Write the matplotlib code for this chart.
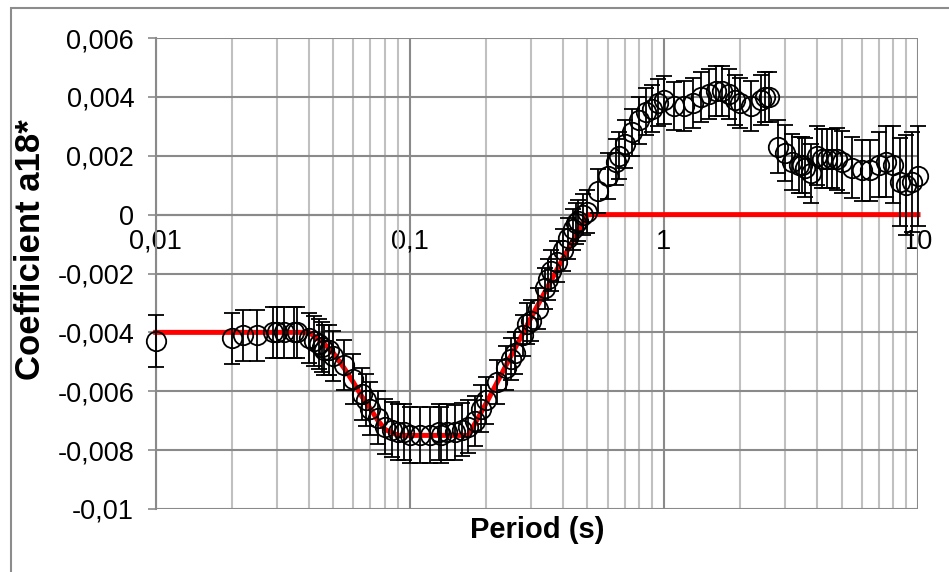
import numpy as np
import matplotlib
matplotlib.use("Agg")
from matplotlib import pyplot as plt
from matplotlib.ticker import FixedLocator, LogLocator, NullFormatter
from matplotlib.patches import Rectangle

# periodos e coeficiente a18*
periods = [0.01, 0.02, 0.022, 0.025, 0.029, 0.03, 0.032, 0.035, 0.036, 0.04,
           0.042, 0.044, 0.045, 0.046, 0.048, 0.05, 0.055, 0.06, 0.065, 0.067,
           0.07, 0.075, 0.08, 0.085, 0.09, 0.095, 0.1, 0.11, 0.12, 0.13,
           0.133, 0.14, 0.15, 0.16, 0.17, 0.18, 0.19, 0.2, 0.22, 0.24,
           0.25, 0.26, 0.28, 0.29, 0.3, 0.32, 0.34, 0.35, 0.36, 0.38,
           0.4, 0.42, 0.44, 0.45, 0.46, 0.48, 0.5, 0.55, 0.6, 0.65,
           0.667, 0.7, 0.75, 0.8, 0.85, 0.9, 0.95, 1.0, 1.1, 1.2,
           1.3, 1.4, 1.5, 1.6, 1.7, 1.8, 1.9, 2.0, 2.2, 2.4,
           2.5, 2.6, 2.8, 3.0, 3.2, 3.4, 3.5, 3.6, 3.8, 4.0,
           4.2, 4.4, 4.6, 4.8, 5.0, 5.5, 6.0, 6.5, 7.0, 7.5,
           8.0, 8.5, 9.0, 9.5, 10.0]
a18 = [-0.0043, -0.0042, -0.0041, -0.0041, -0.0040, -0.0040, -0.0040, -0.0040, -0.0040, -0.0042,
       -0.0043, -0.0044, -0.0045, -0.0046, -0.0046, -0.0048, -0.0051, -0.0056, -0.0061, -0.0063,
       -0.0066, -0.0069, -0.0072, -0.0073, -0.0074, -0.0074, -0.0075, -0.0075, -0.0075, -0.0074,
       -0.0075, -0.0074, -0.0074, -0.0073, -0.0072, -0.0070, -0.0066, -0.0063, -0.0057, -0.0052,
       -0.0049, -0.0047, -0.0041, -0.0037, -0.0036, -0.0032, -0.0025, -0.0022, -0.0019, -0.0016,
       -0.0012, -0.0008, -0.0005, -0.0003, -0.0002, 0.0000, 0.0001, 0.0008, 0.0013, 0.0018,
       0.0020, 0.0024, 0.0028, 0.0032, 0.0035, 0.0036, 0.0038, 0.0039, 0.0037, 0.0037,
       0.0038, 0.0040, 0.0041, 0.0042, 0.0042, 0.0041, 0.0039, 0.0038, 0.0037, 0.0039,
       0.0040, 0.0040, 0.0023, 0.0021, 0.0018, 0.0017, 0.0017, 0.0016, 0.0014, 0.0020,
       0.0019, 0.0019, 0.0019, 0.0019, 0.0018, 0.0016, 0.0015, 0.0015, 0.0017, 0.0018,
       0.0017, 0.0011, 0.0010, 0.0011, 0.0013]
erro = [0.00088, 0.00086, 0.00086, 0.00086, 0.00086, 0.00086, 0.00086, 0.00086, 0.00086, 0.00085,
        0.00085, 0.00085, 0.00085, 0.00085, 0.00085, 0.00085, 0.00085, 0.00085, 0.00088, 0.00088,
        0.00090, 0.00090, 0.00092, 0.00092, 0.00095, 0.00095, 0.00095, 0.00095, 0.00095, 0.00095,
        0.00095, 0.00095, 0.00092, 0.00090, 0.00090, 0.00085, 0.00080, 0.00080, 0.00075, 0.00075,
        0.00072, 0.00070, 0.00070, 0.00070, 0.00070, 0.00070, 0.00070, 0.00070, 0.00070, 0.00070,
        0.00070, 0.00070, 0.00070, 0.00070, 0.00070, 0.00070, 0.00072, 0.00075, 0.00078, 0.00078,
        0.00080, 0.00080, 0.00080, 0.00080, 0.00080, 0.00080, 0.00080, 0.00082, 0.00082, 0.00085,
        0.00085, 0.00085, 0.00085, 0.00085, 0.00085, 0.00085, 0.00085, 0.00085, 0.00085, 0.00085,
        0.00085, 0.00085, 0.00090, 0.00095, 0.00095, 0.00095, 0.00095, 0.00100, 0.00100, 0.00100,
        0.00100, 0.00100, 0.00100, 0.00105, 0.00105, 0.00105, 0.00105, 0.00105, 0.00110, 0.00120,
        0.00130, 0.00150, 0.00170, 0.00170, 0.00170]

# modelo (linha vermelha)
modelo_T = [0.01, 0.04, 0.045, 0.05, 0.055, 0.06, 0.065, 0.07, 0.075, 0.08,
            0.09, 0.1, 0.17, 0.2, 0.3, 0.4, 0.5, 10.0]
modelo_a = [-0.0040, -0.0040, -0.0043, -0.0047, -0.0052, -0.0057, -0.0062, -0.0066, -0.0070, -0.0073,
            -0.0075, -0.0075, -0.0075, -0.0064, -0.0035, -0.0015, 0.0, 0.0]

yticks = [-0.01, -0.008, -0.006, -0.004, -0.002, 0, 0.002, 0.004, 0.006]
ytick_labels = ["-0,01", "-0,008", "-0,006", "-0,004", "-0,002", "0", "0,002", "0,004", "0,006"]
xticks = [0.01, 0.1, 1, 10]
xtick_labels = ["0,01", "0,1", "1", "10"]

plt.rcParams['font.family'] = ['Liberation Sans', 'DejaVu Sans']

W, H = 949, 572
fig = plt.figure(figsize=(W / 100, H / 100), dpi=100)
ax = fig.add_axes([155.7 / W, 1 - 509 / H, (918 - 155.7) / W, (509 - 38) / H])

# borda do grafico (cortada na direita/baixo)
fig.patches.append(Rectangle((11 / W, -0.1), 1.2, 1 - 8 / H + 0.1, transform=fig.transFigure,
                             fill=False, edgecolor='#8c8c8c', linewidth=1.5, zorder=0))

ax.set_xscale('log')
ax.set_xlim(0.01, 10)
ax.set_ylim(-0.01, 0.006)

ax.plot(modelo_T, modelo_a, color='#ff0000', linewidth=3.6, zorder=2, clip_on=False)
pts = ax.errorbar(periods, a18, yerr=erro, fmt='o', markersize=14, markerfacecolor='none',
                  markeredgecolor='black', markeredgewidth=1.3, ecolor='black', elinewidth=1.3,
                  capsize=5.5, capthick=1.3, zorder=3)
for artista in pts.get_children():
    artista.set_clip_on(False)

# grade
ax.xaxis.set_major_locator(FixedLocator(xticks))
ax.xaxis.set_minor_locator(LogLocator(base=10, subs=np.arange(2, 10)))
ax.xaxis.set_minor_formatter(NullFormatter())
ax.set_xticklabels(xtick_labels)
ax.set_yticks(yticks)
ax.set_yticklabels(ytick_labels)
ax.grid(which='major', axis='both', color='#8a8a8a', linewidth=1.5, zorder=0)
ax.grid(which='minor', axis='x', color='#c0c0c0', linewidth=1.5, zorder=0)
ax.set_axisbelow(True)

for s in ['top', 'right']:
    ax.spines[s].set_visible(False)
ax.spines['left'].set_color('#8a8a8a')
ax.spines['left'].set_linewidth(1.5)
ax.spines['bottom'].set_position(('data', 0))
ax.spines['bottom'].set_color('#8a8a8a')
ax.spines['bottom'].set_linewidth(1.5)
ax.spines['bottom'].set_zorder(1)

ax.tick_params(axis='y', which='major', direction='out', length=5.5, width=1.2,
               color='#8a8a8a', labelsize=19.5, pad=10)
ax.tick_params(axis='x', which='both', length=0, labelsize=19.5, pad=10)

ax.set_xlabel("Period (s)", fontsize=21, fontweight='bold', labelpad=0)
ax.xaxis.set_label_coords(0.5, -0.015)
ax.set_ylabel("Coefficient a18*", fontsize=25, fontweight='bold')
ax.yaxis.set_label_coords(-0.142, 0.55)

fig.savefig("out.png", dpi=100)
